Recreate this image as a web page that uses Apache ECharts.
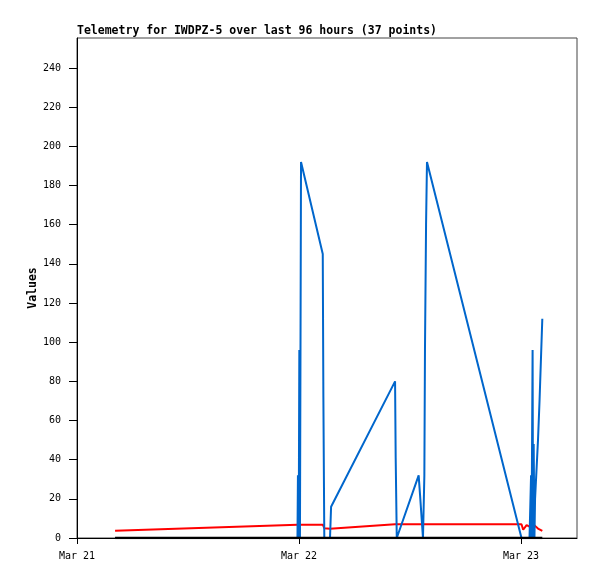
<!DOCTYPE html>
<html>
<head>
<meta charset="utf-8">
<script src="https://cdn.jsdelivr.net/npm/echarts@6/dist/echarts.min.js"></script>
<style>html,body{margin:0;padding:0;background:#fff}#c{width:597px;height:579px}</style>
</head>
<body>
<div id="c"></div>
<script>
// Time stamps (UTC) of the readings
const times = [
  '2025-03-21T04:07','2025-03-21T23:50','2025-03-21T23:53','2025-03-21T23:58','2025-03-22T00:02',
  '2025-03-22T00:06','2025-03-22T00:13','2025-03-22T02:34','2025-03-22T02:38','2025-03-22T02:44',
  '2025-03-22T03:21','2025-03-22T03:28','2025-03-22T10:23','2025-03-22T10:27','2025-03-22T10:34',
  '2025-03-22T10:38','2025-03-22T12:56','2025-03-22T13:05','2025-03-22T13:24','2025-03-22T13:33',
  '2025-03-22T13:37','2025-03-22T13:44','2025-03-22T13:50','2025-03-23T00:03','2025-03-23T00:14',
  '2025-03-23T00:36','2025-03-23T00:55','2025-03-23T01:05','2025-03-23T01:08','2025-03-23T01:15',
  '2025-03-23T01:18','2025-03-23T01:22','2025-03-23T01:27','2025-03-23T01:31','2025-03-23T01:50',
  '2025-03-23T02:00','2025-03-23T02:18'
];
const blueValues = [
  0, 0, 32, 0, 96,
  0, 192, 145, 72, 0,
  0, 16, 80, 41, 0,
  0, 32, 22, 0, 32,
  96, 160, 192, 0, 0,
  0, 0, 32, 0, 96,
  0, 48, 0, 20, 50,
  70, 112
];
const redValues = [
  3.7, 6.8, 6.8, 6.8, 6.8,
  6.8, 6.8, 6.8, 6.0, 5.0,
  4.7, 4.8, 7.0, 7.0, 7.0,
  7.0, 7.0, 7.0, 7.0, 7.0,
  7.0, 7.0, 7.0, 7.0, 4.2,
  6.6, 5.8, 6.4, 6.6, 7.0,
  7.0, 7.0, 6.8, 6.2, 4.8,
  4.3, 3.6
];
const zeroValues = times.map(() => 0);
const yTicks = [0, 20, 40, 60, 80, 100, 120, 140, 160, 180, 200, 220, 240];
const xTickDays = ['2025-03-21T00:00', '2025-03-22T00:00', '2025-03-23T00:00'];
const monthNames = ['Jan','Feb','Mar','Apr','May','Jun','Jul','Aug','Sep','Oct','Nov','Dec'];

const toMs = s => Date.parse(s + ':00Z');
const xMin = toMs('2025-03-21T00:00');
const xMax = toMs('2025-03-23T06:03');
const yMax = 192 * 1.33;
const pairs = vals => times.map((t, i) => [toMs(t), vals[i]]);
const mono = 'DejaVu Sans Mono';

const chart = echarts.init(document.getElementById('c'), null, {renderer: 'canvas'});
chart.setOption({
  animation: false,
  backgroundColor: '#fff',
  title: {
    text: 'Telemetry for IWDPZ-5 over last 96 hours (37 points)',
    left: 72, top: 20,
    textStyle: {fontFamily: mono, fontSize: 11.5, fontWeight: 'bold', color: '#000'}
  },
  grid: {left: 77, top: 38, right: 20, bottom: 41, show: true, borderColor: '#444', borderWidth: 1, backgroundColor: 'transparent'},
  xAxis: {
    type: 'value', min: xMin, max: xMax,
    axisLine: {show: true, lineStyle: {color: '#000', width: 1}},
    axisTick: {show: true, length: 6, lineStyle: {color: '#000'}, customValues: xTickDays.map(toMs)},
    axisLabel: {
      customValues: xTickDays.map(toMs), margin: 13,
      fontFamily: mono, fontSize: 10, color: '#000',
      formatter: v => { const d = new Date(v); return monthNames[d.getUTCMonth()] + ' ' + d.getUTCDate(); }
    },
    splitLine: {show: false}
  },
  yAxis: {
    type: 'value', min: 0, max: yMax,
    name: 'Values', nameLocation: 'middle', nameGap: 38, nameRotate: 90, nameMoveOverlap: false,
    nameTextStyle: {fontFamily: mono, fontSize: 11.5, fontWeight: 'bold', color: '#000'},
    axisLine: {show: true, lineStyle: {color: '#000', width: 1}},
    axisTick: {show: true, length: 8, lineStyle: {color: '#000'}, customValues: yTicks},
    axisLabel: {customValues: yTicks, margin: 16, fontFamily: mono, fontSize: 10, color: '#000'},
    splitLine: {show: false}
  },
  series: [
    {type: 'line', data: pairs(redValues), showSymbol: false, symbol: 'none', lineStyle: {color: '#ff0000', width: 2}, z: 2},
    {type: 'line', data: pairs(blueValues), showSymbol: false, symbol: 'none', lineStyle: {color: '#0066cc', width: 2}, z: 3},
    {type: 'line', data: pairs(zeroValues), showSymbol: false, symbol: 'none', lineStyle: {color: '#000', width: 2.5}, z: 4}
  ]
});
</script>
</body>
</html>
